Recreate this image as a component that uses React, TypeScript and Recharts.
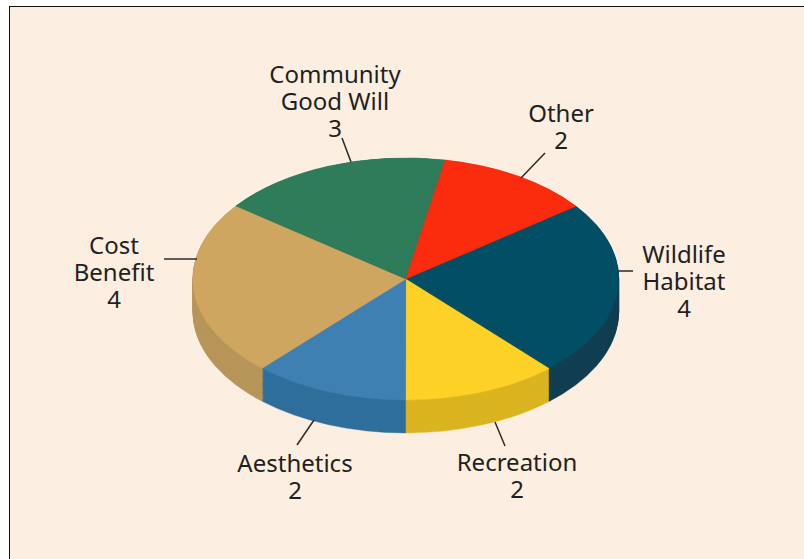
import { PieChart, Pie, Cell } from "recharts";

// slices, clockwise from the Other/Wildlife boundary
const categories = ["Wildlife Habitat", "Recreation", "Aesthetics", "Cost Benefit", "Community Good Will", "Other"];
const counts = [4, 2, 2, 4, 3, 2];
const topColors = ["#024e65", "#fdd126", "#3f80b3", "#cfa660", "#2e7c5a", "#fb2b0e"];
const sideColors = ["#123f52", "#dab520", "#2f6f9c", "#b8965a", "#24644a", "#c9230c"];

const labelLines = [
    ["Wildlife", "Habitat", "4"],
    ["Recreation", "2"],
    ["Aesthetics", "2"],
    ["Cost", "Benefit", "4"],
    ["Community", "Good Will", "3"],
    ["Other", "2"],
];
const labelPos = [
    { x: 684, y: 253 },
    { x: 517, y: 461 },
    { x: 295, y: 462 },
    { x: 114, y: 244 },
    { x: 335, y: 73 },
    { x: 561, y: 112 },
];
const leaders = [
    [618, 271, 633, 271],
    [495, 422, 505, 446],
    [314, 420, 297, 445],
    [164, 259, 197, 259],
    [342, 138, 351, 162],
    [545, 153, 521, 178],
];

const chartData = categories.map((name, i) => ({ name, value: counts[i] }));

const W = 804;
const H = 559;
const SQUASH = 121 / 213; // pie is drawn round, then flattened to an ellipse
const CX = 405.8;
const CY = 279 / SQUASH;
const R = 213;
const DEPTH = 33 / SQUASH;
const START = 37;

// stacked copies of the pie make the wall of the disc
const wallOffsets: number[] = [];
for (let d = DEPTH; d > 0; d -= 2) wallOffsets.push(d);

const App = () => {
    return (
        <div style={{ position: "absolute", left: 0, top: 0, width: W, height: H, overflow: "hidden", background: "#fff" }}>
            <div style={{
                position: "absolute",
                left: 9,
                top: 6,
                width: W,
                height: H,
                background: "#fcefe1",
                borderLeft: "1.5px solid #111",
                borderTop: "1.5px solid #111"
            }} />
            <div style={{ position: "absolute", left: 0, top: 0, transform: `scaleY(${SQUASH})`, transformOrigin: "0 0" }}>
                <PieChart width={W} height={Math.ceil(H / SQUASH)} margin={{ top: 0, right: 0, bottom: 0, left: 0 }}>
                    {wallOffsets.map((d) => (
                        <Pie
                            key={d}
                            data={chartData}
                            dataKey="value"
                            cx={CX}
                            cy={CY + d}
                            outerRadius={R}
                            startAngle={START}
                            endAngle={START - 360}
                            isAnimationActive={false}
                        >
                            {sideColors.map((c) => (
                                <Cell key={c} fill={c} stroke={c} strokeWidth={0.5} />
                            ))}
                        </Pie>
                    ))}
                    <Pie
                        data={chartData}
                        dataKey="value"
                        cx={CX}
                        cy={CY}
                        outerRadius={R}
                        startAngle={START}
                        endAngle={START - 360}
                        isAnimationActive={false}
                    >
                        {topColors.map((c) => (
                            <Cell key={c} fill={c} stroke={c} strokeWidth={0.5} />
                        ))}
                    </Pie>
                </PieChart>
            </div>
            <svg width={W} height={H} style={{ position: "absolute", left: 0, top: 0 }}>
                {leaders.map((l, i) => (
                    <line key={i} x1={l[0]} y1={l[1]} x2={l[2]} y2={l[3]} stroke="#2b2a29" strokeWidth={1.5} />
                ))}
                {labelLines.map((lines, i) => (
                    <text
                        key={i}
                        textAnchor="middle"
                        fontFamily="'Noto Sans', sans-serif"
                        fontSize={24}
                        fill="#231f20"
                    >
                        {lines.map((t, j) => (
                            <tspan key={j} x={labelPos[i].x} y={labelPos[i].y + j * 27} dominantBaseline="central">
                                {t}
                            </tspan>
                        ))}
                    </text>
                ))}
            </svg>
        </div>
    );
};

export default App;
